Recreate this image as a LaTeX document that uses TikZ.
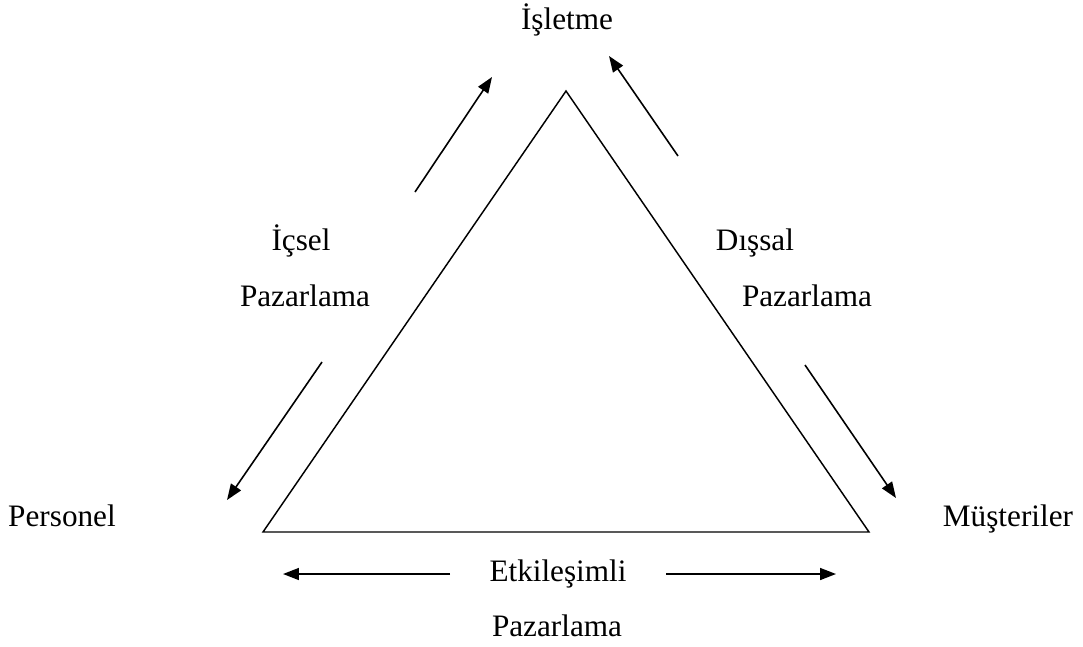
\documentclass[tikz,border=0pt]{standalone}
\usepackage{fontspec}
\setmainfont{Liberation Serif}
\usetikzlibrary{arrows.meta}
\begin{document}
\begin{tikzpicture}[x=0.0264583cm,y=-0.0264583cm,
  lbl/.style={inner sep=0pt,anchor=base,font=\fontsize{23.5}{28}\selectfont},
  edge/.style={line width=1.1pt},
  arr/.style={line width=1.2pt,-{Triangle[length=12pt,width=9pt]}}]
\useasboundingbox (0,0) rectangle (1083,646);
% triangle
\coordinate (A) at (566,91);
\coordinate (B) at (263,532);
\coordinate (C) at (869,532);
\draw[edge,line join=miter] (A) -- (B) -- (C) -- cycle;
% labels
\node[lbl] (isletme) at (567,29) {İşletme};
\node[lbl] (personel) at (62,526) {Personel};
\node[lbl] (musteriler) at (1008,526) {Müşteriler};
\node[lbl] (icsel) at (301,250) {İçsel};
\node[lbl] (icp) at (305,306) {Pazarlama};
\node[lbl] (dissal) at (755,250) {Dışsal};
\node[lbl] (disp) at (807,306) {Pazarlama};
\node[lbl] (etk) at (558,581) {Etkileşimli};
\node[lbl] (etkp) at (557,636) {Pazarlama};
% arrow endpoints
\coordinate (a1s) at (415,192); \coordinate (a1e) at (492,77);
\coordinate (a2s) at (678,156); \coordinate (a2e) at (609,56);
\coordinate (a3s) at (322,362); \coordinate (a3e) at (227,500);
\coordinate (a4s) at (805,365); \coordinate (a4e) at (896,498);
\coordinate (a5s) at (450,574); \coordinate (a5e) at (283,574);
\coordinate (a6s) at (666,574); \coordinate (a6e) at (836,574);
\draw[arr] (a1s) -- (a1e);
\draw[arr] (a2s) -- (a2e);
\draw[arr] (a3s) -- (a3e);
\draw[arr] (a4s) -- (a4e);
\draw[arr] (a5s) -- (a5e);
\draw[arr] (a6s) -- (a6e);
\end{tikzpicture}
\end{document}
